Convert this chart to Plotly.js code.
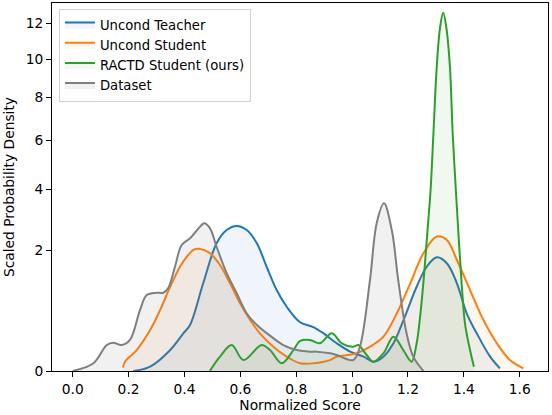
<!DOCTYPE html>
<html>
<head>
<meta charset="utf-8">
<script src="https://cdn.plot.ly/plotly-3.0.1.min.js"></script>
<style>html,body{margin:0;padding:0;background:#fff}</style>
</head>
<body>
<div id="chart" style="width:552px;height:415px"></div>
<script>
// density curves (x = normalized score, y = density)
var teacherX = [0.217, 0.277, 0.349, 0.396, 0.420, 0.467, 0.515, 0.551, 0.587, 0.623, 0.659, 0.694, 0.730, 0.766, 0.814, 0.861, 0.897, 0.945, 0.993, 1.041, 1.076, 1.112, 1.148, 1.184, 1.231, 1.267, 1.303, 1.339, 1.375, 1.410, 1.446, 1.494, 1.529];
var teacherY = [0.0, 0.007, 0.103, 0.278, 0.39, 1.164, 2.20, 2.60, 2.73, 2.60, 2.20, 1.56, 1.017, 0.687, 0.43, 0.36, 0.28, 0.165, 0.09, 0.054, 0.026, 0.054, 0.165, 0.464, 1.088, 1.56, 1.807, 1.649, 1.164, 0.572, 0.278, 0.054, 0.003];

var studentX = [0.180, 0.187, 0.229, 0.277, 0.313, 0.349, 0.384, 0.408, 0.432, 0.452, 0.491, 0.527, 0.563, 0.599, 0.635, 0.670, 0.718, 0.766, 0.814, 0.862, 0.921, 0.945, 1.016, 1.064, 1.112, 1.160, 1.208, 1.255, 1.303, 1.339, 1.375, 1.422, 1.470, 1.518, 1.565, 1.613];
var studentY = [0.005, 0.026, 0.103, 0.32, 0.63, 1.09, 1.56, 1.82, 2.01, 2.04, 1.92, 1.605, 1.164, 0.75, 0.464, 0.278, 0.132, 0.054, 0.019, 0.019, 0.034, 0.054, 0.077, 0.132, 0.237, 0.572, 1.164, 1.917, 2.40, 2.30, 1.735, 1.017, 0.464, 0.165, 0.034, 0.003];

var ractdX = [0.491, 0.527, 0.569, 0.611, 0.676, 0.706, 0.748, 0.790, 0.814, 0.849, 0.885, 0.927, 0.963, 1.004, 1.022, 1.052, 1.076, 1.112, 1.148, 1.183, 1.213, 1.230, 1.243, 1.258, 1.270, 1.281, 1.291, 1.303, 1.315, 1.326, 1.337, 1.350, 1.360, 1.372, 1.386, 1.404, 1.422, 1.436];
var ractdY = [0.0, 0.054, 0.148, 0.034, 0.148, 0.103, 0.019, 0.103, 0.19, 0.20, 0.165, 0.278, 0.165, 0.132, 0.148, 0.065, 0.026, 0.077, 0.237, 0.103, 0.026, 0.15, 0.5, 1.4, 2.6, 4.0, 6.3, 9.6, 11.8, 12.64, 11.8, 9.6, 6.3, 3.85, 1.8, 0.415, 0.103, 0.007];

var datasetX = [0.0, 0.074, 0.122, 0.145, 0.175, 0.205, 0.241, 0.265, 0.301, 0.324, 0.342, 0.366, 0.390, 0.420, 0.456, 0.471, 0.491, 0.515, 0.551, 0.587, 0.623, 0.659, 0.706, 0.754, 0.802, 0.849, 0.873, 0.921, 0.945, 1.004, 1.028, 1.064, 1.088, 1.114, 1.142, 1.165, 1.195, 1.219, 1.255];
var datasetY = [0.0, 0.019, 0.148, 0.171, 0.148, 0.20, 0.63, 0.913, 0.96, 0.96, 1.06, 1.56, 2.15, 2.35, 2.71, 2.82, 2.66, 2.10, 1.40, 0.95, 0.57, 0.39, 0.25, 0.148, 0.103, 0.09, 0.09, 0.077, 0.065, 0.034, 0.132, 1.24, 2.82, 3.49, 2.60, 1.24, 0.278, 0.054, 0.0];

var seriesNames = ['Uncond Teacher', 'Uncond Student', 'RACTD Student (ours)', 'Dataset'];
var seriesColors = ['31,119,180', '255,127,14', '44,160,44', '127,127,127'];
var fillAlpha = [0.07, 0.07, 0.07, 0.11];
var yTicks = [0, 2, 4, 6, 8, 10, 12];

// the y axis is a power scale
var power = 0.59;
var scaleY = (arr) => arr.map(v => Math.pow(Math.max(v, 0), power));

var makeTrace = (x, y, i) => {
    return {
        x: x,
        y: scaleY(y),
        name: seriesNames[i],
        type: 'scatter',
        mode: 'lines',
        line: { color: 'rgb(' + seriesColors[i] + ')', width: 2, shape: 'spline', smoothing: 1 },
        fill: 'tozeroy',
        fillcolor: 'rgba(' + seriesColors[i] + ',' + fillAlpha[i] + ')',
        hoverinfo: 'skip'
    };
}

var traces = [
    makeTrace(teacherX, teacherY, 0),
    makeTrace(studentX, studentY, 1),
    makeTrace(ractdX, ractdY, 2),
    makeTrace(datasetX, datasetY, 3)
];

var font = { family: 'DejaVu Sans', size: 13.8, color: '#000' };

var layout = {
    width: 552,
    height: 415,
    margin: { l: 52, r: 4, t: 3, b: 44 },
    paper_bgcolor: '#fff',
    plot_bgcolor: '#fff',
    font: font,
    showlegend: true,
    legend: {
        x: 0.014, y: 0.985, xanchor: 'left', yanchor: 'top',
        bgcolor: 'rgba(255,255,255,0.8)',
        bordercolor: '#d0d0d0', borderwidth: 1,
        font: { family: 'DejaVu Sans', size: 13.2, color: '#000' },
        traceorder: 'normal',
        itemwidth: 30
    },
    xaxis: {
        range: [-0.0741, 1.7011],
        tickvals: [0, 0.2, 0.4, 0.6, 0.8, 1.0, 1.2, 1.4, 1.6],
        tickformat: '.1f',
        ticks: 'outside', ticklen: 5, tickcolor: '#000',
        showgrid: false, zeroline: false,
        showline: true, mirror: true, linecolor: '#000', linewidth: 1,
        title: { text: 'Normalized Score', font: font, standoff: 3 }
    },
    yaxis: {
        range: [0, 4.589],
        tickvals: scaleY(yTicks),
        ticktext: yTicks.map(String),
        ticks: 'outside', ticklen: 5, tickcolor: '#000',
        showgrid: false, zeroline: false,
        showline: true, mirror: true, linecolor: '#000', linewidth: 1,
        title: { text: 'Scaled Probability Density', font: font, standoff: 7 }
    }
};

Plotly.newPlot('chart', traces, layout, { staticPlot: true });
</script>
</body>
</html>
